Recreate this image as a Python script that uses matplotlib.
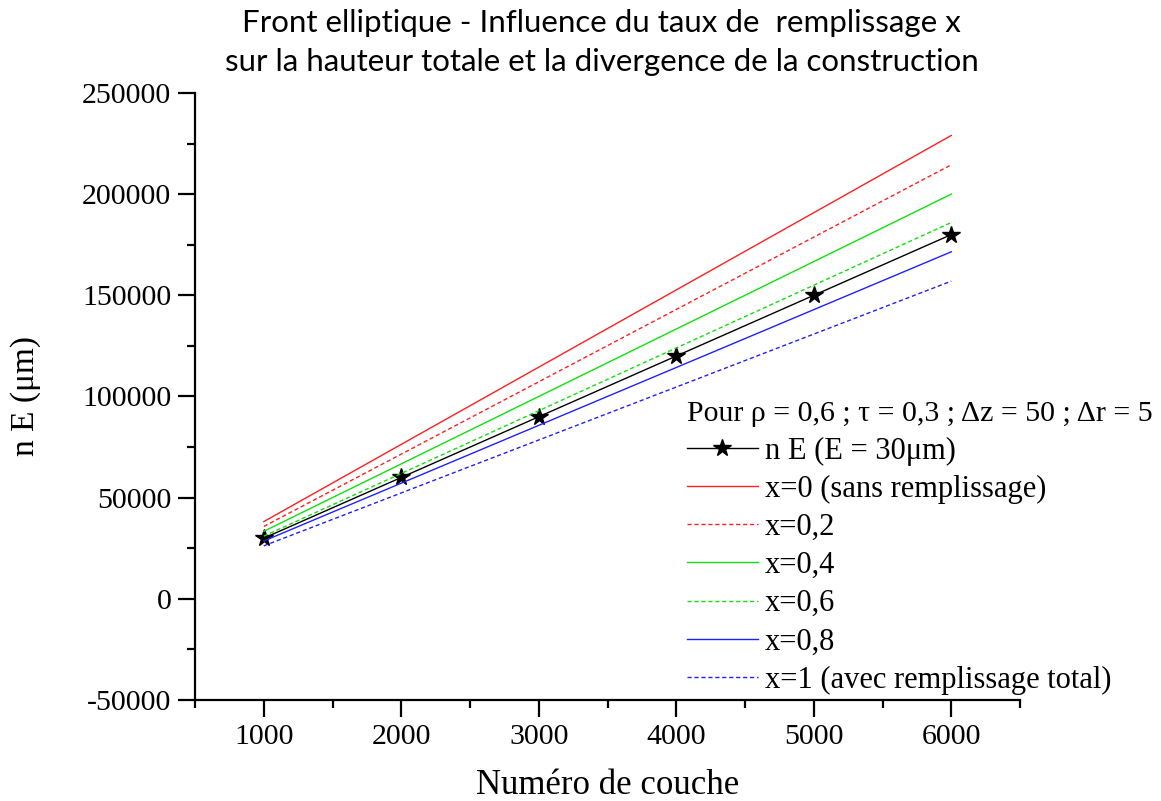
import matplotlib.pyplot as plt
from matplotlib.ticker import MultipleLocator

# donnees
couches = [1000, 2000, 3000, 4000, 5000, 6000]
nE = [30000, 60000, 90000, 120000, 150000, 180000]

x_bornes = [1000, 6000]
h_x0 = [38200, 229000]
h_x02 = [35800, 214500]
h_x04 = [33400, 200000]
h_x06 = [31000, 186000]
h_x08 = [28600, 171500]
h_x1 = [26200, 157000]

serif = ['Liberation Serif', 'DejaVu Serif']
plt.rcParams['font.family'] = serif
plt.rcParams['axes.unicode_minus'] = False

fig = plt.figure(figsize=(11.61, 8.01), dpi=100)
ax = fig.add_axes([0.168, 0.126, 0.7106, 0.758])

ax.plot(couches, nE, color="black", lw=1, marker="*", ms=13, label="n E (E = 30μm)")
ax.plot(x_bornes, h_x0, color="#ff2020", lw=1, label="x=0 (sans remplissage)")
ax.plot(x_bornes, h_x02, color="#ff2020", lw=1, ls=(0, (3, 2)), label="x=0,2")
ax.plot(x_bornes, h_x04, color="#10e010", lw=1, label="x=0,4")
ax.plot(x_bornes, h_x06, color="#10e010", lw=1, ls=(0, (3, 2)), label="x=0,6")
ax.plot(x_bornes, h_x08, color="#2020ff", lw=1, label="x=0,8")
ax.plot(x_bornes, h_x1, color="#2020ff", lw=1, ls=(0, (3, 2)), label="x=1 (avec remplissage total)")

ax.set_xlim(500, 6500)
ax.set_ylim(-50000, 250000)
ax.xaxis.set_major_locator(MultipleLocator(1000))
ax.xaxis.set_minor_locator(MultipleLocator(500))
ax.yaxis.set_major_locator(MultipleLocator(50000))
ax.yaxis.set_minor_locator(MultipleLocator(25000))

for s in ["top", "right"]:
    ax.spines[s].set_visible(False)
for s in ["left", "bottom"]:
    ax.spines[s].set_linewidth(1.6)
ax.tick_params(which="major", direction="out", length=12, width=1.6, labelsize=21.5, pad=5)
ax.tick_params(which="minor", direction="out", length=6, width=1.6)

ax.set_xlabel("Numéro de couche", fontsize=25, labelpad=14)
ax.set_ylabel("n E (μm)", fontsize=24, labelpad=30)

titre = "Front elliptique - Influence du taux de  remplissage x\nsur la hauteur totale et la divergence de la construction"
fig.text(0.518, 0.947, titre, ha="center", va="center", fontsize=22.5,
         linespacing=1.5, family=['Lato', 'DejaVu Sans'])

leg = ax.legend(loc="upper left", bbox_to_anchor=(0.592, 0.499), bbox_transform=fig.transFigure,
                frameon=False, fontsize=22, handlelength=2.3, handletextpad=0.25,
                labelspacing=0.3, borderpad=0, borderaxespad=0,
                title="Pour ρ = 0,6 ; τ = 0,3 ; Δz = 50 ; Δr = 5", title_fontsize=21.5)
leg._legend_box.align = "left"

fig.savefig("out.png", dpi=100)
